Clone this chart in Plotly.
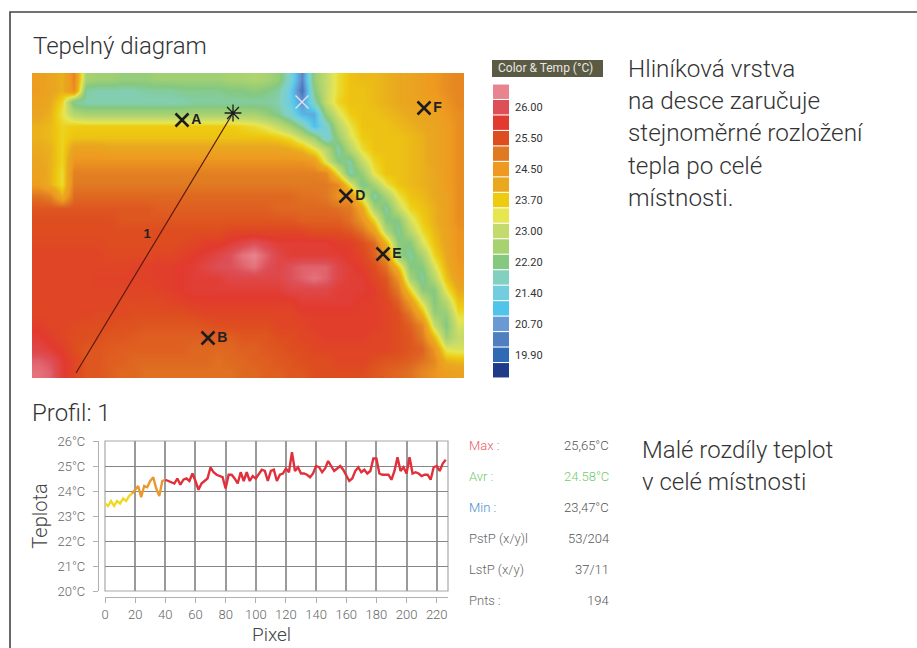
import plotly.graph_objects as go

# ---------- legend ----------
legend_temps = [26.3, 26.0, 25.75, 25.5, 25.0, 24.5, 24.1, 23.7, 23.35, 23.0, 22.6, 22.2, 21.8, 21.4, 21.05, 20.7, 20.3, 19.9, 19.5]
legend_colors = ["#e8848e", "#dd5058", "#e23a2e", "#de4d20", "#e07a22", "#ee9a20", "#e9a820", "#eecb10", "#e6e650",
                 "#c4da6c", "#a8d270", "#85c880", "#82d0c0", "#72cede", "#50c4ea", "#6a9ad5", "#4f7fc0", "#2f6ab5", "#1f3a88"]
legend_labels = ["", "26.00", "", "25.50", "", "24.50", "", "23.70", "", "23.00", "", "22.20", "", "21.40", "", "20.70", "", "19.90", ""]

# ---------- thermal image, temperatures ----------
row_00 = [24.4,24.2,24.0,24.8,22.6,22.5,22.5,22.4,22.4,22.4,22.5,22.5,22.5,22.5,22.5,22.5,22.6,22.6,22.7,22.6,22.4,21.6,20.4,22.4,23.0,23.5,23.8,23.9,23.9,24.0,24.1,24.2,24.4,24.5,24.7,24.8]
row_01 = [24.4,24.2,24.0,24.7,22.0,21.9,21.9,21.9,21.9,22.0,22.0,22.0,22.1,22.1,22.1,22.1,22.2,22.2,22.3,22.2,22.0,21.3,20.1,22.2,23.0,23.5,23.8,23.8,23.9,24.0,24.1,24.2,24.4,24.5,24.7,24.8]
row_02 = [24.3,24.1,23.6,22.0,21.9,21.9,21.9,21.9,21.9,21.9,21.9,21.9,21.9,22.0,22.0,22.0,22.0,22.0,22.0,22.0,21.9,21.3,20.6,21.8,23.0,23.6,23.8,23.8,23.9,24.0,24.1,24.2,24.3,24.4,24.6,24.8]
row_03 = [24.2,24.0,23.4,22.8,22.6,22.6,22.6,22.6,22.6,22.6,22.6,22.6,22.6,22.6,22.6,22.6,22.6,22.6,22.6,22.4,22.1,21.6,20.9,20.8,22.4,23.2,23.7,23.8,23.8,23.9,24.0,24.1,24.2,24.3,24.5,24.7]
row_04 = [24.0,23.9,23.6,23.7,23.7,23.7,23.7,23.7,23.7,23.7,23.7,23.7,23.7,23.7,23.7,23.7,23.7,23.6,23.5,23.3,23.0,22.6,22.0,21.0,21.6,22.8,23.4,23.8,23.8,23.8,23.9,24.0,24.1,24.2,24.4,24.7]
row_05 = [24.0,23.9,23.6,23.8,23.8,23.8,23.8,23.8,23.8,23.8,23.8,23.8,23.8,23.8,23.8,23.8,23.8,23.8,23.8,23.8,23.7,23.5,23.0,22.5,21.5,22.4,23.2,23.7,23.8,23.8,23.8,23.9,24.0,24.2,24.4,24.7]
row_06 = [24.1,24.0,23.6,24.3,24.3,24.3,24.2,24.2,24.2,24.2,24.2,24.2,24.2,24.2,24.2,24.2,24.2,24.2,24.2,24.2,24.2,24.1,23.9,23.4,22.8,21.9,22.8,23.5,23.8,23.8,23.8,23.9,24.0,24.2,24.4,24.7]
row_07 = [24.2,24.0,23.6,24.6,24.6,24.6,24.6,24.6,24.6,24.6,24.6,24.6,24.6,24.6,24.6,24.6,24.6,24.6,24.6,24.6,24.6,24.6,24.6,24.4,23.2,22.2,22.0,23.0,23.6,23.8,23.8,23.9,24.0,24.2,24.4,24.7]
row_08 = [24.3,24.0,23.5,24.9,24.9,24.9,24.9,24.9,24.9,24.9,24.9,24.9,24.9,24.9,24.9,24.9,24.9,24.9,24.9,24.9,24.9,24.9,24.9,24.9,24.8,23.4,21.9,22.4,23.4,23.8,23.8,23.9,24.0,24.1,24.4,24.7]
row_09 = [24.4,24.0,23.5,25.0,25.0,25.0,25.0,25.0,25.0,25.0,25.0,25.0,25.0,25.0,25.0,25.0,25.0,25.0,25.0,25.0,25.0,25.0,25.0,25.0,25.0,24.8,23.4,22.0,22.6,23.4,23.8,23.9,24.0,24.1,24.4,24.7]
row_10 = [25.1,24.9,24.0,25.2,25.2,25.2,25.2,25.2,25.2,25.2,25.2,25.2,25.2,25.2,25.2,25.2,25.2,25.2,25.2,25.2,25.2,25.2,25.1,25.1,25.0,24.6,24.6,23.2,21.9,22.6,23.4,23.8,23.9,24.1,24.3,24.7]
row_11 = [25.4,25.4,25.4,25.4,25.4,25.4,25.4,25.4,25.4,25.4,25.3,25.3,25.3,25.3,25.3,25.3,25.3,25.3,25.3,25.3,25.2,25.2,25.2,25.2,25.2,25.1,25.0,24.2,22.6,22.0,23.0,23.6,23.8,24.0,24.3,24.7]
row_12 = [25.5,25.5,25.5,25.5,25.5,25.5,25.5,25.4,25.4,25.4,25.4,25.4,25.4,25.4,25.4,25.4,25.4,25.4,25.4,25.4,25.4,25.4,25.3,25.3,25.3,25.3,25.1,24.6,23.6,22.2,22.2,23.2,23.7,24.0,24.3,24.7]
row_13 = [25.5,25.5,25.5,25.5,25.5,25.5,25.5,25.5,25.5,25.5,25.5,25.5,25.5,25.5,25.5,25.5,25.6,25.6,25.6,25.6,25.6,25.6,25.6,25.5,25.5,25.5,25.4,25.1,24.4,22.8,22.0,22.8,23.5,23.9,24.2,24.6]
row_14 = [25.55,25.55,25.55,25.55,25.55,25.55,25.5,25.5,25.5,25.5,25.5,25.5,25.55,25.6,25.7,25.7,25.8,25.9,26.0,25.9,25.8,25.8,25.8,25.8,25.8,25.7,25.7,25.5,25.2,24.0,22.3,22.2,23.2,23.8,24.2,24.6]
row_15 = [25.6,25.6,25.6,25.6,25.6,25.6,25.55,25.55,25.55,25.55,25.6,25.6,25.65,25.75,25.8,25.9,26.0,26.2,26.3,26.1,25.9,25.8,25.8,25.8,25.8,25.8,25.7,25.6,25.3,24.6,22.4,22.0,22.6,23.6,24.1,24.6]
row_16 = [25.6,25.6,25.6,25.6,25.6,25.6,25.6,25.6,25.65,25.65,25.7,25.7,25.75,25.8,25.9,26.0,26.0,26.1,26.2,26.0,25.9,26.0,26.1,26.1,26.1,25.9,25.8,25.7,25.5,25.1,23.8,22.2,22.2,23.2,24.0,24.5]
row_17 = [25.6,25.6,25.6,25.6,25.6,25.65,25.65,25.65,25.65,25.65,25.7,25.7,25.75,25.8,25.8,25.8,25.9,25.9,25.9,25.9,25.9,26.0,26.1,26.2,26.1,25.9,25.8,25.8,25.6,25.4,24.6,22.6,22.0,22.8,23.8,24.4]
row_18 = [25.6,25.6,25.6,25.6,25.6,25.6,25.6,25.6,25.6,25.6,25.65,25.7,25.75,25.8,25.8,25.8,25.8,25.8,25.8,25.8,25.8,25.9,25.9,25.9,25.9,25.8,25.8,25.8,25.7,25.5,25.0,23.6,22.3,22.2,23.4,24.1]
row_19 = [25.6,25.6,25.6,25.6,25.6,25.6,25.6,25.55,25.55,25.55,25.55,25.6,25.65,25.7,25.7,25.7,25.7,25.7,25.7,25.7,25.7,25.7,25.8,25.8,25.8,25.8,25.8,25.7,25.7,25.6,25.3,24.5,23.2,22.2,22.8,23.8]
row_20 = [25.6,25.6,25.6,25.6,25.6,25.55,25.55,25.55,25.5,25.5,25.5,25.5,25.5,25.55,25.6,25.6,25.6,25.6,25.6,25.6,25.6,25.6,25.7,25.7,25.7,25.7,25.7,25.7,25.7,25.6,25.5,25.0,24.0,22.4,22.4,23.5]
row_21 = [25.7,25.6,25.6,25.55,25.5,25.5,25.5,25.45,25.45,25.4,25.4,25.4,25.4,25.4,25.45,25.5,25.5,25.5,25.5,25.5,25.6,25.6,25.6,25.7,25.7,25.7,25.7,25.7,25.7,25.6,25.5,25.3,24.8,23.0,22.2,23.2]
row_22 = [25.8,25.7,25.6,25.5,25.5,25.45,25.4,25.4,25.35,25.3,25.3,25.3,25.3,25.3,25.3,25.3,25.3,25.4,25.4,25.4,25.5,25.5,25.6,25.6,25.7,25.7,25.7,25.7,25.6,25.6,25.5,25.4,25.0,23.9,22.5,23.0]
row_23 = [25.9,25.8,25.7,25.5,25.4,25.4,25.35,25.3,25.3,25.3,25.3,25.3,25.3,25.2,25.2,25.2,25.2,25.3,25.3,25.4,25.4,25.5,25.5,25.6,25.6,25.6,25.6,25.6,25.6,25.6,25.5,25.4,25.3,24.6,23.3,23.2]
row_24 = [26.1,26.0,25.8,25.6,25.4,25.4,25.3,25.3,25.2,25.2,25.2,25.2,25.2,25.2,25.2,25.1,25.2,25.2,25.3,25.3,25.4,25.4,25.5,25.5,25.5,25.6,25.6,25.6,25.5,25.4,25.4,25.3,25.1,24.8,24.0,23.9]
row_25 = [26.2,26.1,25.8,25.6,25.4,25.4,25.3,25.2,25.2,25.1,25.1,25.1,25.1,25.1,25.1,25.1,25.1,25.2,25.2,25.3,25.3,25.4,25.4,25.5,25.5,25.5,25.5,25.5,25.4,25.3,25.2,25.1,24.8,24.6,24.4,24.3]
image_rows = [row_00,row_01,row_02,row_03,row_04,row_05,row_06,row_07,row_08,row_09,row_10,row_11,row_12,
              row_13,row_14,row_15,row_16,row_17,row_18,row_19,row_20,row_21,row_22,row_23,row_24,row_25]

mark_x = [150, 176, 314, 351, 392]
mark_y = [47, 265, 123, 181, 35]
mark_labels = ["A", "B", "D", "E", "F"]
profile_start = [201, 40]
profile_end = [44, 300]

# ---------- profile ----------
profile_pixel = list(range(0, 228, 2))
profile_temp = [23.5,23.4,23.6,23.4,23.6,23.5,23.7,23.6,23.8,23.9,
                24.05,24.2,23.75,24.2,24.15,24.4,24.55,24.1,23.8,24.4,
                24.45,24.4,24.35,24.3,24.5,24.25,24.45,24.5,24.4,24.7,
                24.4,24.05,24.3,24.4,24.5,24.95,24.75,24.65,24.6,24.55,
                24.1,24.65,24.65,24.5,24.3,24.75,24.4,24.75,24.4,24.6,
                24.5,24.7,24.85,24.8,24.4,24.8,24.85,24.4,24.65,24.7,
                24.9,24.75,25.55,24.8,24.95,24.7,24.7,24.65,24.55,24.7,
                25.0,24.95,24.75,24.9,25.2,25.0,24.8,24.9,25.0,24.85,
                24.6,24.4,24.5,24.8,24.95,24.75,24.85,24.7,24.8,25.3,
                25.3,24.7,24.65,24.65,24.65,24.45,24.8,25.35,24.8,24.95,
                24.7,25.35,24.7,24.75,24.7,24.6,24.65,24.65,24.45,24.95,
                25.0,24.8,25.1,25.25]
temp_ticks = [20, 21, 22, 23, 24, 25, 26]
temp_tick_labels = ["20°C", "21°C", "22°C", "23°C", "24°C", "25°C", "26°C"]
pixel_ticks = [0, 20, 40, 60, 80, 100, 120, 140, 160, 180, 200, 220]

stat_names = ["Max :", "Avr :", "Min :", "PstP (x/y)l", "LstP (x/y)", "Pnts :"]
stat_values = ["25,65°C", "24.58°C", "23,47°C", "53/204", "37/11", "194"]
stat_colors = ["#e8606a", "#70cc6c", "#3f90cc", "#666666", "#666666", "#666666"]
note_top = ["Hliníková vrstva", "na desce zaručuje", "stejnoměrné rozložení", "tepla po celé", "místnosti."]
note_bottom = ["Malé rozdíly teplot", "v celé místnosti"]

W, H = 917, 648
FONT = "Roboto"
def px(x): return x / W
def py(y): return 1 - y / H

lo, hi = min(legend_temps), max(legend_temps)
scale = [[(t - lo) / (hi - lo), c] for t, c in sorted(zip(legend_temps, legend_colors))]

fig = go.Figure()
fig.add_trace(go.Heatmap(z=image_rows, x0=6, dx=12, y0=5.87, dy=11.73, zmin=lo, zmax=hi,
                         colorscale=scale, zsmooth="best", showscale=False, xaxis="x", yaxis="y"))
fig.add_trace(go.Scatter(x=[profile_start[0], profile_end[0]], y=[profile_start[1], profile_end[1]], mode="lines",
                         line=dict(color="#5a1a10", width=1.2), xaxis="x", yaxis="y", showlegend=False))
fig.add_trace(go.Scatter(x=mark_x, y=mark_y, mode="markers+text", text=mark_labels, textposition="middle right",
                         textfont=dict(family="Liberation Sans", size=14, color="#222222", weight=700),
                         marker=dict(symbol="x-thin", size=13, line=dict(width=2.6, color="#1c1c1c")),
                         xaxis="x", yaxis="y", showlegend=False))
fig.add_trace(go.Scatter(x=[profile_start[0]], y=[profile_start[1]], mode="markers",
                         marker=dict(symbol="asterisk", size=14, line=dict(width=1.3, color="#1c1c1c")),
                         xaxis="x", yaxis="y", showlegend=False))
fig.add_trace(go.Scatter(x=[270], y=[29], mode="markers",
                         marker=dict(symbol="x-thin", size=13, line=dict(width=1.4, color="#d8e4f0")),
                         xaxis="x", yaxis="y", showlegend=False))
fig.add_trace(go.Scatter(x=[115], y=[162], mode="text", text=["1"],
                         textfont=dict(family="Liberation Sans", size=13, color="#222222", weight=700),
                         xaxis="x", yaxis="y", showlegend=False))

# profile line, coloured by temperature band
for a, b, color in [(0, 10, "#f0d820"), (9, 21, "#e89a30"), (20, len(profile_temp), "#e0303a")]:
    fig.add_trace(go.Scatter(x=profile_pixel[a:b], y=profile_temp[a:b], mode="lines",
                             line=dict(color=color, width=2.4), xaxis="x2", yaxis="y2", showlegend=False))

# legend swatches
fig.add_trace(go.Bar(y=list(range(len(legend_colors))), x=[1] * len(legend_colors), orientation="h", width=0.93,
                     marker=dict(color=legend_colors, line=dict(width=0)), xaxis="x3", yaxis="y3", showlegend=False))

tick_font = dict(family=FONT, size=13, color="#666666", weight=300)
fig.update_layout(
    width=W, height=H, margin=dict(l=0, r=0, t=0, b=0), paper_bgcolor="white", plot_bgcolor="white",
    font=dict(family=FONT), showlegend=False,
    xaxis=dict(domain=[px(32), px(464)], range=[0, 432], visible=False, automargin=False),
    yaxis=dict(domain=[py(378), py(73)], range=[305, 0], visible=False, automargin=False),
    xaxis2=dict(domain=[px(105), px(448)], range=[0, 227.5], tickvals=pixel_ticks, anchor="free", position=py(597),
                showgrid=True, gridcolor="#9a9a9a", gridwidth=1.7, zeroline=False, showline=True, linecolor="#b0b0b0",
                linewidth=1.2, ticks="outside", ticklen=5, tickcolor="#b0b0b0", tickfont=tick_font, automargin=False),
    yaxis2=dict(domain=[py(591), py(441)], range=[20, 26], tickvals=temp_ticks, ticktext=temp_tick_labels, anchor="free",
                position=px(98), showgrid=True, gridcolor="#868686", gridwidth=1.2, zeroline=False, showline=True,
                linecolor="#b0b0b0", linewidth=1.2, ticks="outside", ticklen=5, tickcolor="#b0b0b0",
                tickfont=tick_font, ticklabelstandoff=5, automargin=False,
                title=dict(text="Teplota", font=dict(family=FONT, size=20, color="#444444", weight=300), standoff=3)),
    xaxis3=dict(domain=[px(493), px(509)], range=[0, 1], visible=False, automargin=False),
    yaxis3=dict(domain=[py(378), py(84)], range=[18.5, -0.5], anchor="free", position=px(509), side="right",
                tickvals=list(range(len(legend_labels))), ticktext=legend_labels, showgrid=False, zeroline=False,
                showline=False, ticks="", tickfont=dict(family=FONT, size=11, color="#333333"), ticklabelstandoff=5,
                automargin=False),
    shapes=[
        dict(type="path", path=f"M {px(10)} {py(H)} L {px(10)} {py(12)} L {px(W)} {py(12)}", xref="paper", yref="paper",
             line=dict(color="#444444", width=1.6)),
        dict(type="rect", x0=0, x1=1, y0=0, y1=1, xref="x2 domain", yref="y2 domain",
             line=dict(color="#a8a8a8", width=1.2), layer="below"),
        dict(type="rect", x0=px(492), x1=px(603), y0=py(77), y1=py(60), xref="paper", yref="paper",
             fillcolor="#5b5a45", line=dict(width=0)),
    ],
)

def note(text, x, y, size, color="#333333", anchor="left", weight=300):
    fig.add_annotation(text=text, x=px(x), y=py(y), xref="paper", yref="paper", xanchor=anchor, yanchor="middle",
                       showarrow=False, align=anchor, font=dict(family=FONT, size=size, color=color, weight=weight))

note("Tepelný diagram", 31, 46, 24)
note("Profil: 1", 30, 413, 24)
note("Color &amp; Temp (°C)", 545, 68.5, 12, "#e8e8e0", "center", 400)
note("Pixel", 271, 634, 19, "#444444", "center")
for i, line in enumerate(note_top):
    note(line, 626, 68.5 + i * 32.2, 24.3)
for i, line in enumerate(note_bottom):
    note(line, 640, 450 + i * 32, 24)
for i, (n, v, c) in enumerate(zip(stat_names, stat_values, stat_colors)):
    y = 445 + i * 31.1
    note(n, 467, y, 13, c)
    note(v, 611, y, 13, c if i == 1 else "#555555", "right")

fig.write_html("out.html", config=dict(displayModeBar=False), post_script="document.body.style.margin='0';")
